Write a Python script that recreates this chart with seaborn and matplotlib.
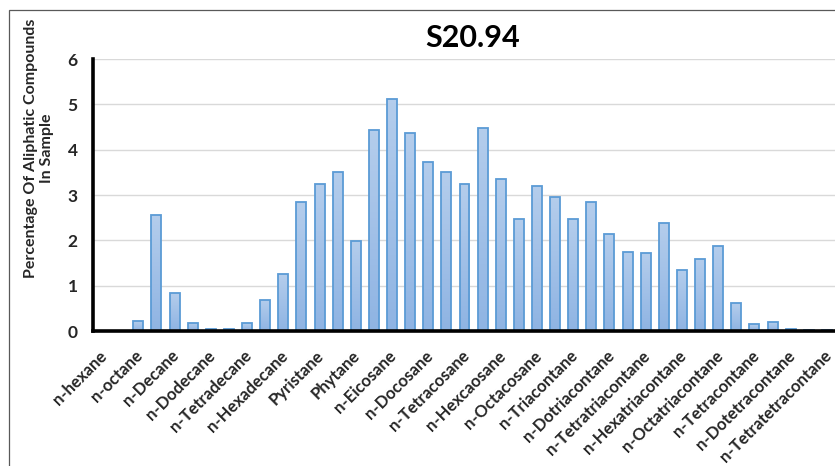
import numpy as np
import pandas as pd
import matplotlib
matplotlib.use("Agg")
import matplotlib.pyplot as plt
import matplotlib.transforms as mtransforms
from matplotlib.patches import Rectangle
import seaborn as sns

compounds = [
    "n-hexane", "n-heptane", "n-octane", "n-nonane", "n-Decane", "n-Undecane",
    "n-Dodecane", "n-Tridecane", "n-Tetradecane", "n-Pentadecane", "n-Hexadecane",
    "n-Heptadecane", "Pyristane", "n-Octadecane", "Phytane", "n-Nonadecane",
    "n-Eicosane", "n-Heneicosane", "n-Docosane", "n-Tricosane", "n-Tetracosane",
    "n-Pentacosane", "n-Hexcaosane", "n-Heptacosane", "n-Octacosane", "n-Nonacosane",
    "n-Triacontane", "n-Hentriacontane", "n-Dotriacontane", "n-Tritriacontane",
    "n-Tetratriacontane", "n-Pentatriacontane", "n-Hexatriacontane",
    "n-Heptatriacontane", "n-Octatriacontane", "n-Nonatriacontane",
    "n-Tetracontane", "n-Hentetracontane", "n-Dotetracontane",
    "n-Tritetracontane", "n-Tetratetracontane",
]
percentages = [
    0.0, 0.0, 0.22, 2.55, 0.84, 0.18, 0.04, 0.05, 0.17, 0.69, 1.25,
    2.84, 3.25, 3.51, 1.99, 4.43, 5.11, 4.36, 3.73, 3.50, 3.25,
    4.48, 3.35, 2.48, 3.20, 2.96, 2.48, 2.84, 2.15, 1.75, 1.73,
    2.38, 1.35, 1.59, 1.87, 0.61, 0.15, 0.19, 0.05, 0.03, 0.03,
]
y_ticks = [0, 1, 2, 3, 4, 5, 6]
title = "S20.94"
y_label = "Percentage Of Aliphatic Compounds\nIn Sample"

df = pd.DataFrame({"compound": compounds, "pct": percentages})

sns.set_style("white")
plt.rcParams["font.family"] = ["Lato", "DejaVu Sans"]

W, H = 835, 466
fig = plt.figure(figsize=(W / 100, H / 100), dpi=100)
ax = fig.add_axes([93 / W, 1 - 331 / H, (836 - 93) / W, (331 - 59) / H])

sns.barplot(data=df, x="compound", y="pct", ax=ax, order=compounds,
            color="#9dbfe6", width=0.55, edgecolor="#5b9bd5", linewidth=1.3,
            saturation=1)

# vertical gradient fill inside each bar
grad = np.linspace(0, 1, 64).reshape(-1, 1)
cmap = matplotlib.colors.LinearSegmentedColormap.from_list(
    "g", ["#8fb4e3", "#b4cdec"])
for p in ax.patches:
    x0, y0 = p.get_x(), p.get_y()
    w, h = p.get_width(), p.get_height()
    if h <= 0:
        continue
    im = ax.imshow(grad, extent=(x0, x0 + w, y0, y0 + h), origin="lower",
                   cmap=cmap, aspect="auto", zorder=p.get_zorder() - 0.01)
    im.set_clip_path(p)
    p.set_facecolor("none")

ax.set_xlim(-0.5, len(compounds) - 0.5)
ax.set_ylim(0, 6)
ax.set_yticks(y_ticks)
ax.set_yticklabels([str(t) for t in y_ticks], fontsize=12.5, fontweight="bold",
                   color="#262626")
ax.tick_params(axis="y", length=0, pad=11)

even = list(range(0, len(compounds), 2))
ax.set_xticks(even)
ax.set_xticklabels([compounds[i] for i in even], rotation=45, ha="right",
                   va="center", rotation_mode="anchor", fontsize=12,
                   fontweight="bold", color="#262626")
ax.tick_params(axis="x", length=0, pad=16)
offset = mtransforms.ScaledTranslation(2 / 100, 0, fig.dpi_scale_trans)
for lab in ax.get_xticklabels():
    lab.set_transform(lab.get_transform() + offset)

ax.set_xlabel("")
ax.set_ylabel("")
ax.grid(axis="y", color="#d9d9d9", linewidth=1)
ax.set_axisbelow(True)
for s in ["top", "right"]:
    ax.spines[s].set_visible(False)
for s in ["left", "bottom"]:
    ax.spines[s].set_color("black")
    ax.spines[s].set_linewidth(2.6)
    ax.spines[s].set_zorder(5)

fig.text(473 / W, 1 - 38 / H, title, ha="center", va="center",
         fontsize=22, fontweight="bold", color="black")

fig.text(39 / W, 1 - 148 / H, y_label, rotation=90, ha="center", va="center",
         multialignment="center", fontsize=11.5, fontweight="bold",
         color="#262626", linespacing=1.25)

fig.patches.append(Rectangle((9 / W, -0.1), 1.2, 1 - 10 / H + 0.1,
                             transform=fig.transFigure, fill=False,
                             edgecolor="#595959", linewidth=0.9))

fig.savefig("out.png", dpi=100)
